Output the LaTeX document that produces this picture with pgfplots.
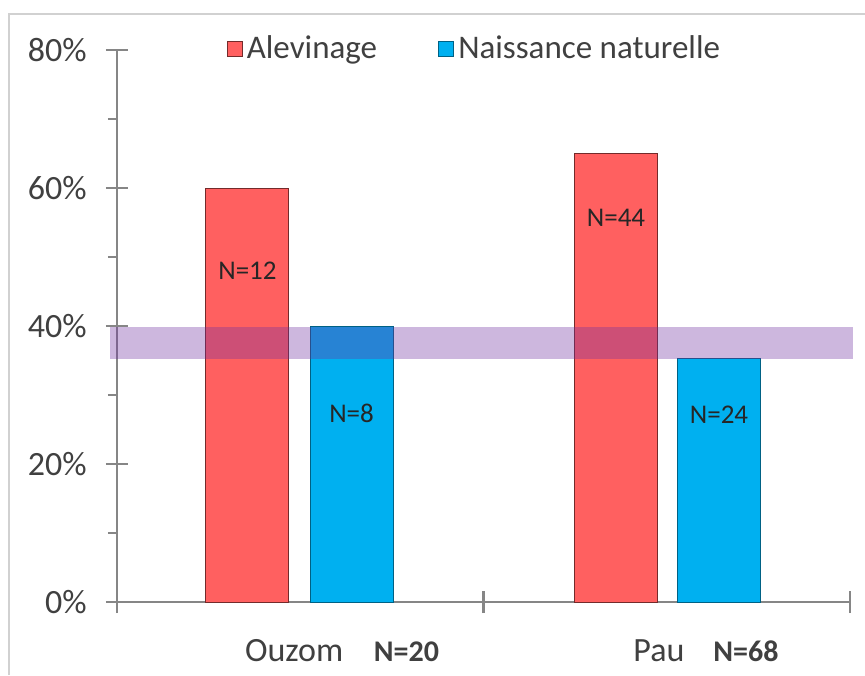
\documentclass[border=0pt]{standalone}
\usepackage{fontspec}
\setmainfont{Carlito}
\usepackage{pgfplots}
\pgfplotsset{compat=1.18}
\definecolor{redbar}{RGB}{255,96,96}
\definecolor{bluebar}{RGB}{0,176,240}
\definecolor{band}{RGB}{112,48,160}
\definecolor{axgray}{RGB}{134,134,134}
\definecolor{txt}{RGB}{64,64,64}
\pgfplotsset{
  mybar/.style={ybar, bar width=0.2265, bar shift=0pt,
    legend image code/.code={\filldraw[##1] (0pt,-3.8pt) rectangle (7.6pt,3.8pt);}},
}
\begin{document}
\begin{tikzpicture}
\begin{axis}[
  scale only axis, width=366.5pt, height=276pt,
  xmin=-0.5, xmax=1.5, ymin=0, ymax=80,
  axis x line=bottom, axis y line=left,
  axis line style={draw=axgray, line width=1.2pt, -},
  clip=false,
  tick align=center, major tick length=11pt,
  tick style={draw=axgray, line width=1.2pt},
  xtick={-0.5,0.5,1.5}, xticklabels={},
  extra x ticks={0.114,1.107},
  extra x tick labels={Ouzom\hspace{0.9em}{\fontsize{15}{17}\selectfont\bfseries N=20},Pau\hspace{0.85em}{\fontsize{15}{17}\selectfont\bfseries N=68}},
  extra x tick style={tick style={draw=none}},
  xticklabel style={anchor=center, yshift=-19pt, font=\fontsize{17}{19}\selectfont, text=txt},
  ytick={0,20,40,60,80}, yticklabels={0\%,20\%,40\%,60\%,80\%},
  extra y ticks={10,30,50,70}, extra y tick labels={},
  extra y tick style={tick align=outside, major tick length=4.5pt},
  yticklabel style={anchor=east, inner sep=0pt, xshift=-9.5pt, font=\fontsize{17}{19}\selectfont, text=txt},
  legend style={at={(0.149,1.0025)}, anchor=west, draw=none, fill=none,
    legend columns=2, font=\fontsize{16.5}{18}\selectfont, text=txt,
    inner sep=0pt, /tikz/every even column/.append style={column sep=28.5pt}},
  legend cell align=left,
]
\addplot[mybar, fill=redbar, draw=black!55!redbar, line width=0.5pt]
  coordinates {(-0.144,60) (0.8615,65)};
\addlegendentry{Alevinage}
\addplot[mybar, fill=bluebar, draw=black!45!bluebar, line width=0.5pt]
  coordinates {(0.140,40) (1.1425,35.3)};
\addlegendentry{Naissance naturelle}
\addplot[forget plot, draw=none, mark=none, nodes near coords,
  point meta=explicit symbolic, nodes near coords align=center,
  every node near coord/.style={font=\fontsize{13.5}{15}\selectfont, text=black!85, anchor=center}]
  table[meta=label] {
x y label
-0.144 48 N=12
0.140 27.4 N=8
0.8615 55.7 N=44
1.1425 27.1 N=24
};
\addplot[forget plot, draw=none, fill=band, fill opacity=0.35]
  coordinates {(-0.519,35.2) (1.508,35.2) (1.508,39.8) (-0.519,39.8)} --cycle;
\end{axis}
\begin{scope}[shift={(current axis.south west)}, xshift=-58.5pt, yshift=301pt, x=0.5pt, y=-0.5pt]
\path[use as bounding box] (0,0) rectangle (865,675);
\draw[black!18, line width=1.2pt] (9,675) -- (9,14) -- (865,14);
\end{scope}
\end{tikzpicture}
\end{document}
